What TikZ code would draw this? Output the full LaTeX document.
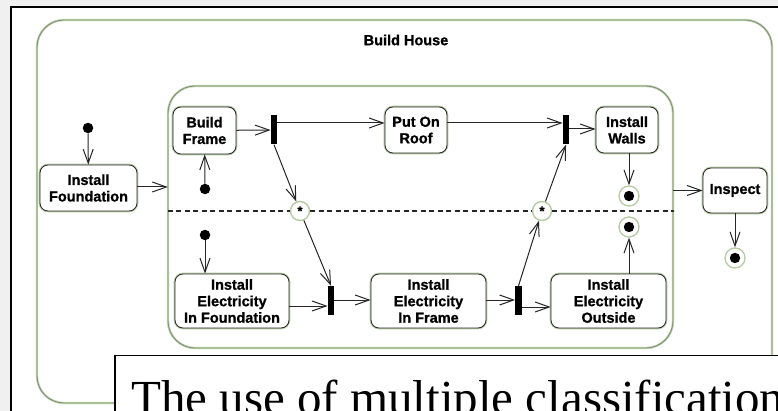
\documentclass[tikz,border=0pt]{standalone}
\usepackage{fontspec}
\setmainfont{Liberation Serif}
\newfontfamily\diag{Liberation Sans}[BoldFeatures={FakeBold=1}]
\usetikzlibrary{arrows.meta}
\definecolor{sage}{HTML}{B5CBA2}
\definecolor{ink}{HTML}{262626}
\definecolor{bggray}{HTML}{F0F0F0}
\begin{document}
\begin{tikzpicture}[x=1pt,y=-1pt,
  act/.style 2 args={rectangle, rounded corners=8pt, minimum width=#1, minimum height=#2,
    inner sep=0pt, draw=ink, line width=0.8pt, fill=white,
    preaction={draw=sage, line width=2.6pt},
    font=\diag\bfseries\fontsize{14.5}{16.5}\selectfont, align=center, text=black},
  region/.style 2 args={rectangle, rounded corners=27pt, minimum width=#1, minimum height=#2,
    inner sep=0pt, draw=ink!70, line width=0.4pt,
    preaction={draw=sage, line width=2.2pt}},
  forkbar/.style={rectangle, fill=black, minimum width=6.5pt, minimum height=29pt, inner sep=0pt},
  sync/.style={circle, draw=sage, line width=1.4pt, fill=white, minimum size=19pt, inner sep=0pt,
    font=\diag\bfseries\fontsize{13}{13}\selectfont},
  final/.style={circle, draw=sage, line width=1.3pt, fill=white, minimum size=20pt, inner sep=0pt,
    path picture={\fill[black] (path picture bounding box.center) circle (5.2pt);}},
  init/.style={circle, fill=black, minimum size=10.5pt, inner sep=0pt},
  arr/.style={draw=ink, line width=1pt, -{Straight Barb[length=14pt,width=10pt,line width=1pt]}},
  divider/.style={draw=ink, line width=1.3pt, dash pattern=on 5pt off 3.5pt}
]
\useasboundingbox (0,0) rectangle (778,411);
\clip (0,0) rectangle (778,411);
% background and frame
\fill[bggray] (0,0) rectangle (778,411);
\fill[white] (11,7) rectangle (790,420);
\draw[black, line width=1.5pt] (11,420) -- (11,7) -- (790,7);

% regions
\node[region={735pt}{383pt}] (house) at (404.5,211.5) {};
\node[font=\diag\bfseries\fontsize{14.5}{16.5}\selectfont] (title) at (406,40) {Build House};
\node[region={505pt}{262pt}] (comp) at (420.5,217) {};

% states
\node[init] (i0) at (88,128) {};
\node[act={97pt}{46pt}] (found) at (88.5,188) {Install\\Foundation};
\node[act={63pt}{47pt}] (frame) at (204.5,130.5) {Build\\Frame};
\node[act={62pt}{46pt}] (roof) at (416,130) {Put On\\Roof};
\node[act={62pt}{46pt}] (walls) at (627,130) {Install\\Walls};
\node[act={64pt}{45pt}] (insp) at (735,190.5) {Inspect};
\node[act={114pt}{54pt}] (elfound) at (232,301) {Install\\Electricity\\In Foundation};
\node[act={115pt}{54pt}] (elframe) at (428.5,301) {Install\\Electricity\\In Frame};
\node[act={115pt}{54pt}] (elout) at (608.5,301) {Install\\Electricity\\Outside};

\node[init] (i1) at (205,189) {};
\node[init] (i2) at (205,235) {};

\node[forkbar] (b1) at (274,130) {};
\node[forkbar] (b2) at (566,130) {};
\node[forkbar] (b3) at (331,300.5) {};
\node[forkbar] (b4) at (518.5,300.5) {};

\node[sync] (s1) at (300,211) {*};
\node[sync] (s2) at (542,211) {*};

\node[final] (f1) at (629,196) {};
\node[final] (f2) at (629,227) {};
\node[final] (f3) at (735,258) {};

% divider
\draw[divider] (comp.west |- s1) -- (s1.west);
\draw[divider] (s1.east) -- (s2.west);
\draw[divider] (s2.east) -- (comp.east |- s2);
\fill[ink] (comp.east |- s2) circle (1.2pt);

% connectors
\draw[arr] (i0) -- (found);
\draw[arr] (found.east |- 0,187) -- (comp.west |- 0,187);
\draw[arr] (i1) -- (frame);
\draw[arr] (frame) -- (b1);
\draw[arr] (b1.east |- 0,123) -- (roof.west |- 0,123);
\draw[arr] (roof.east |- 0,123) -- (b2.west |- 0,123);
\draw[arr] (b2.east |- 0,129) -- (walls.west |- 0,129);
\draw[arr] (walls.south -| f1) -- (f1);
\draw[arr] (b1.south) -- (s1);
\draw[arr] (s1) -- (b3.north);
\draw[arr] (i2) -- (i2 |- elfound.north);
\draw[arr] (elfound.east |- 0,306) -- (b3.west |- 0,306);
\draw[arr] (b3.east |- 0,300) -- (elframe.west |- 0,300);
\draw[arr] (elframe.east |- 0,300) -- (b4.west |- 0,300);
\draw[arr] (b4.east |- 0,307) -- (elout.west |- 0,307);
\draw[arr] (b4.north) -- (s2);
\draw[arr] (s2) -- (b2.south);
\draw[arr] (elout.north -| f2) -- (f2);
\draw[arr] (comp.east |- insp.west) -- (insp.west);
\draw[arr] (insp) -- (f3);

% caption
\node[draw=black, line width=1.5pt, fill=white, anchor=north west, minimum width=700pt,
  minimum height=100pt, inner sep=0pt] (cap) at (114,354.5) {};
\node[anchor=base west, inner sep=0pt, font=\fontsize{49}{49}\selectfont] (captext) at (131,414)
  {The use of multiple classification};
\end{tikzpicture}
\end{document}
